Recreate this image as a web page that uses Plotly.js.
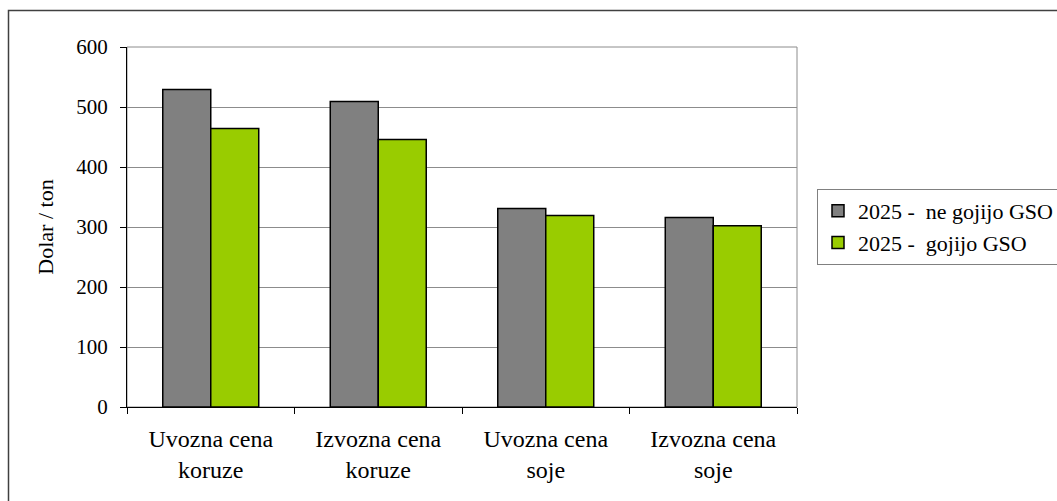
<!DOCTYPE html>
<html>
<head>
<meta charset="utf-8">
<script src="https://cdn.plot.ly/plotly-3.0.1.min.js"></script>
<style>
html,body{margin:0;padding:0;background:#fff;overflow:hidden;}
#chart{width:1057px;height:501px;}
</style>
</head>
<body>
<div id="chart"></div>
<script>
const categories = ["Uvozna cena<br>koruze", "Izvozna cena<br>koruze", "Uvozna cena<br>soje", "Izvozna cena<br>soje"];
const seriesNames = ["2025 -  ne gojijo GSO", "2025 -  gojijo GSO"];
const noGmo = [529, 509, 331, 316];
const gmo = [464, 446, 319, 302];
const yTicks = [0, 100, 200, 300, 400, 500, 600];

const FONT = "Times New Roman, 'Liberation Serif', 'DejaVu Serif', serif";

const traces = [
  {type: "bar", name: seriesNames[0], x: categories, y: noGmo,
   marker: {color: "#808080", line: {color: "#000000", width: 1.5}}, legendgroup: "a"},
  {type: "bar", name: seriesNames[1], x: categories, y: gmo,
   marker: {color: "#99CC00", line: {color: "#000000", width: 1.5}}, legendgroup: "b"}
];

const L = 127, R = 260, T = 47, B = 94;
const pw = 1057 - L - R, ph = 501 - T - B;

const layout = {
  width: 1057, height: 501,
  margin: {l: L, r: R, t: T, b: B, pad: 0, autoexpand: false},
  paper_bgcolor: "#ffffff", plot_bgcolor: "#ffffff",
  font: {family: FONT, size: 21, color: "#000000"},
  barmode: "group", bargap: 0.427, bargroupgap: 0,
  showlegend: true,
  legend: {
    x: (817 - L) / pw, y: (501 - B - 189) / ph, xanchor: "left", yanchor: "top",
    bordercolor: "#808080", borderwidth: 1, bgcolor: "#ffffff",
    font: {family: FONT, size: 22, color: "#000000"},
    traceorder: "normal", tracegroupgap: 9
  },
  xaxis: {
    type: "category",
    showline: true, linecolor: "#000000", linewidth: 1,
    ticks: "outside", tickson: "boundaries", ticklen: 6, tickcolor: "#000000", tickwidth: 1,
    ticklabelstandoff: 10,
    tickfont: {family: FONT, size: 24, color: "#000000"},
    showgrid: false, zeroline: false, fixedrange: true
  },
  yaxis: {
    range: [0, 600], tickvals: yTicks, ticktext: yTicks.map(String),
    showline: true, linecolor: "#000000", linewidth: 1,
    ticks: "outside", ticklen: 6, tickcolor: "#000000", tickwidth: 1,
    ticklabelstandoff: 8,
    tickfont: {family: FONT, size: 21, color: "#000000"},
    showgrid: true, gridcolor: "#8c8c8c", gridwidth: 1,
    zeroline: false, fixedrange: true,
    title: {text: "Dolar / ton", font: {family: FONT, size: 22, color: "#000000"}, standoff: 16}
  },
  shapes: [
    {type: "rect", xref: "paper", yref: "paper", x0: 0, x1: 1, y0: 0, y1: 1,
     line: {color: "#8c8c8c", width: 1}, layer: "below"},
    {type: "path", xref: "paper", yref: "paper",
     path: "M " + ((8.5 - L) / pw) + " " + ((501 - B - 600) / ph) +
           " L " + ((8.5 - L) / pw) + " " + ((501 - B - 10.5) / ph) +
           " L " + ((1100 - L) / pw) + " " + ((501 - B - 10.5) / ph),
     line: {color: "#404040", width: 1.5}}
  ]
};

Plotly.newPlot("chart", traces, layout, {displayModeBar: false, staticPlot: true});
</script>
</body>
</html>
